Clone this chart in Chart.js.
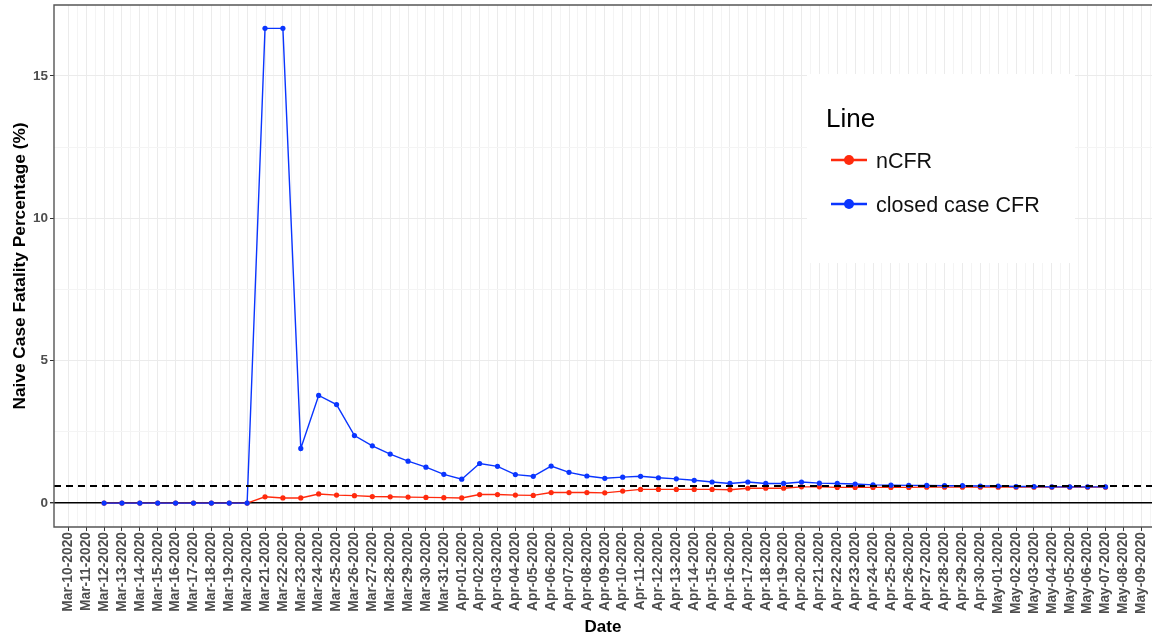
<!DOCTYPE html>
<html>
<head>
<meta charset="utf-8">
<title>Naive Case Fatality Percentage</title>
<script src="https://cdn.jsdelivr.net/npm/chart.js@4.4.1/dist/chart.umd.min.js"></script>
<style>
  html, body { margin: 0; padding: 0; background: #fff; overflow: hidden; }
  #wrap { width: 1152px; height: 638px; }
  canvas { display: block; }
</style>
</head>
<body>
<div id="wrap"><canvas id="cfrChart" width="1152" height="638"></canvas></div>
<script>
const dateLabels = [
  "Mar-10-2020", "Mar-11-2020", "Mar-12-2020", "Mar-13-2020", "Mar-14-2020",
  "Mar-15-2020", "Mar-16-2020", "Mar-17-2020", "Mar-18-2020", "Mar-19-2020",
  "Mar-20-2020", "Mar-21-2020", "Mar-22-2020", "Mar-23-2020", "Mar-24-2020",
  "Mar-25-2020", "Mar-26-2020", "Mar-27-2020", "Mar-28-2020", "Mar-29-2020",
  "Mar-30-2020", "Mar-31-2020", "Apr-01-2020", "Apr-02-2020", "Apr-03-2020",
  "Apr-04-2020", "Apr-05-2020", "Apr-06-2020", "Apr-07-2020", "Apr-08-2020",
  "Apr-09-2020", "Apr-10-2020", "Apr-11-2020", "Apr-12-2020", "Apr-13-2020",
  "Apr-14-2020", "Apr-15-2020", "Apr-16-2020", "Apr-17-2020", "Apr-18-2020",
  "Apr-19-2020", "Apr-20-2020", "Apr-21-2020", "Apr-22-2020", "Apr-23-2020",
  "Apr-24-2020", "Apr-25-2020", "Apr-26-2020", "Apr-27-2020", "Apr-28-2020",
  "Apr-29-2020", "Apr-30-2020", "May-01-2020", "May-02-2020", "May-03-2020",
  "May-04-2020", "May-05-2020", "May-06-2020", "May-07-2020", "May-08-2020",
  "May-09-2020"
];

// nCFR, one value per date (null = no observation)
const ncfrValues = [
  null, null, 0, 0, 0, 0, 0, 0, 0, 0,
  0, 0.22, 0.18, 0.18, 0.32, 0.28, 0.26, 0.23, 0.22, 0.21,
  0.20, 0.19, 0.18, 0.30, 0.30, 0.28, 0.27, 0.37, 0.37, 0.37,
  0.36, 0.42, 0.48, 0.48, 0.48, 0.48, 0.48, 0.47, 0.52, 0.52,
  0.52, 0.57, 0.57, 0.55, 0.55, 0.55, 0.55, 0.55, 0.56, 0.56,
  0.56, 0.56, 0.56, 0.56, 0.56, 0.56, 0.56, 0.56, 0.56, null,
  null
];

// closed case CFR, one value per date
const closedCfrValues = [
  null, null, 0, 0, 0, 0, 0, 0, 0, 0,
  0, 16.67, 16.67, 1.92, 3.78, 3.46, 2.37, 2.01, 1.72, 1.47,
  1.26, 1.01, 0.84, 1.39, 1.29, 1.00, 0.94, 1.30, 1.08, 0.95,
  0.87, 0.91, 0.94, 0.89, 0.85, 0.80, 0.74, 0.69, 0.74, 0.69,
  0.69, 0.74, 0.70, 0.69, 0.67, 0.64, 0.63, 0.62, 0.62, 0.61,
  0.61, 0.60, 0.60, 0.58, 0.58, 0.57, 0.57, 0.57, 0.57, null,
  null
];

const yTickValues = [0, 2.5, 5, 7.5, 10, 12.5, 15];
const yLabelValues = [0, 5, 10, 15];
const referenceLevel = 0.6;

const seriesNames = ["nCFR", "closed case CFR"];
const seriesColors = ["#ff2a0d", "#0a35ff"];

const GRID_MAJOR = "#ebebeb";
const GRID_MINOR = "#f4f4f4";
const AXIS_COLOR = "#4d4d4d";

function toPoints(values) {
  return values.map((v, i) => ({ x: i, y: v }));
}

const panelPlugin = {
  id: "panel",
  afterDatasetsDraw(chart) {
    const { ctx, chartArea } = chart;
    const y = chart.scales.y.getPixelForValue(referenceLevel);
    ctx.save();
    ctx.strokeStyle = "#000";
    ctx.lineWidth = 2;
    ctx.setLineDash([7, 5]);
    ctx.beginPath();
    ctx.moveTo(chartArea.left, y);
    ctx.lineTo(chartArea.right, y);
    ctx.stroke();
    ctx.setLineDash([]);

    // panel border (top, left, bottom; right runs off the picture)
    ctx.strokeStyle = "#555";
    ctx.lineWidth = 1.4;
    ctx.beginPath();
    ctx.moveTo(chartArea.right, chartArea.top);
    ctx.lineTo(chartArea.left, chartArea.top);
    ctx.lineTo(chartArea.left, chartArea.bottom);
    ctx.lineTo(chartArea.right, chartArea.bottom);
    ctx.stroke();
    ctx.restore();
  }
};

const boxLegendPlugin = {
  id: "boxLegend",
  afterDraw(chart) {
    const ctx = chart.ctx;
    ctx.save();
    ctx.fillStyle = "#fff";
    ctx.fillRect(807, 74, 268, 189);

    ctx.fillStyle = "#000";
    ctx.textBaseline = "alphabetic";
    ctx.textAlign = "left";
    ctx.font = "26px 'Liberation Sans', Arial, sans-serif";
    ctx.fillText("Line", 826, 127);

    const rows = [168, 212];
    ctx.font = "21.5px 'Liberation Sans', Arial, sans-serif";
    seriesNames.forEach((name, i) => {
      const cy = rows[i] - 8;
      ctx.strokeStyle = seriesColors[i];
      ctx.lineWidth = 2.5;
      ctx.beginPath();
      ctx.moveTo(831, cy);
      ctx.lineTo(867, cy);
      ctx.stroke();
      ctx.fillStyle = seriesColors[i];
      ctx.beginPath();
      ctx.arc(849, cy, 5, 0, Math.PI * 2);
      ctx.fill();
      ctx.fillStyle = "#111";
      ctx.fillText(name, 876, rows[i]);
    });
    ctx.restore();
  }
};

function buildChart() {
  Chart.defaults.font.family = "'Liberation Sans', Arial, sans-serif";
  const ctx = document.getElementById("cfrChart");
  return new Chart(ctx, {
    type: "line",
    data: {
      datasets: [
        {
          label: seriesNames[0],
          data: toPoints(ncfrValues),
          borderColor: seriesColors[0],
          backgroundColor: seriesColors[0],
          borderWidth: 1.4,
          pointRadius: 2.6,
          pointBorderWidth: 0,
          order: 2,
        },
        {
          label: seriesNames[1],
          data: toPoints(closedCfrValues),
          borderColor: seriesColors[1],
          backgroundColor: seriesColors[1],
          borderWidth: 1.4,
          pointRadius: 2.6,
          pointBorderWidth: 0,
          order: 1,
        },
      ],
    },
    options: {
      responsive: false,
      animation: false,
      devicePixelRatio: 1,
      layout: { autoPadding: false, padding: { top: 5, right: 0, bottom: 0, left: 0 } },
      plugins: {
        legend: { display: false },
        tooltip: { enabled: false },
      },
      scales: {
        x: {
          type: "linear",
          min: -0.8,
          max: 60.6,
          afterBuildTicks(scale) {
            const ticks = [];
            for (let i = 0; i <= 121; i++) ticks.push({ value: i / 2 });
            scale.ticks = ticks;
          },
          afterFit(scale) {
            scale.height = 111;
            scale.paddingLeft = 0;
            scale.paddingRight = 0;
          },
          ticks: {
            autoSkip: false,
            minRotation: 90,
            maxRotation: 90,
            padding: 1,
            color: AXIS_COLOR,
            font: { size: 13.8, weight: "bold" },
            callback: (v) => (Number.isInteger(v) ? dateLabels[v] : ""),
          },
          grid: {
            color: (c) => (Number.isInteger(c.tick.value) ? GRID_MAJOR : GRID_MINOR),
            tickColor: (c) => (Number.isInteger(c.tick.value) ? "#333" : "rgba(0,0,0,0)"),
            tickLength: 4,
            lineWidth: 1,
          },
          border: { display: false },
          title: {
            display: true,
            text: "Date",
            color: "#000",
            font: { size: 17, weight: "bold" },
            padding: { top: 0, bottom: 0 },
          },
        },
        y: {
          min: -0.84,
          max: 17.49,
          afterBuildTicks(scale) {
            scale.ticks = yTickValues.map((v) => ({ value: v }));
          },
          afterFit(scale) {
            scale.width = 54;
            scale.paddingTop = 0;
            scale.paddingBottom = 0;
          },
          ticks: {
            padding: 2,
            color: AXIS_COLOR,
            font: { size: 13.5, weight: "bold" },
            callback: (v) => (yLabelValues.includes(v) ? String(v) : ""),
          },
          grid: {
            color: (c) => {
              if (c.tick.value === 0) return "#000";
              return yLabelValues.includes(c.tick.value) ? GRID_MAJOR : GRID_MINOR;
            },
            lineWidth: (c) => (c.tick.value === 0 ? 1.4 : 1),
            tickColor: (c) => (yLabelValues.includes(c.tick.value) ? "#333" : "rgba(0,0,0,0)"),
            tickLength: 4,
          },
          border: { display: false },
          title: {
            display: true,
            text: "Naive Case Fatality Percentage (%)",
            color: "#000",
            font: { size: 17.3, weight: "bold" },
            padding: { top: 10, bottom: 0 },
          },
        },
      },
    },
    plugins: [panelPlugin, boxLegendPlugin],
  });
}

(() => {
  buildChart();
})();
</script>
</body>
</html>
